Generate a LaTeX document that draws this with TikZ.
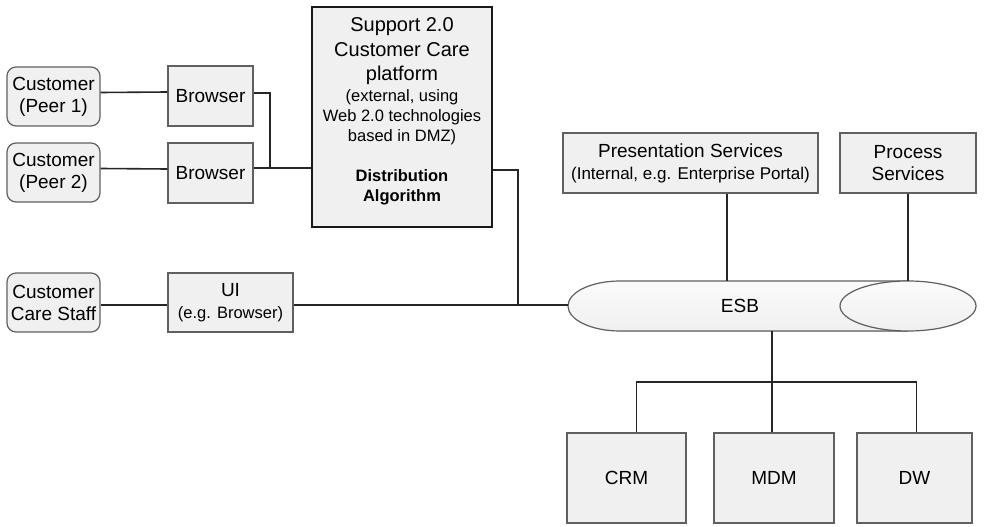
\documentclass[tikz,border=0pt]{standalone}
\usepackage{fontspec}
\setmainfont{Liberation Sans}
\usetikzlibrary{calc}

\newcommand{\bigtxt}{\fontsize{20}{25}\selectfont}
\newcommand{\smalltxt}{\fontsize{16.5}{20}\selectfont}

\begin{document}
\begin{tikzpicture}[x=1pt, y=-1pt,
    box/.style={draw=gray!75!black, line width=1.2pt, fill=gray!12, inner sep=0pt, align=center, font=\fontsize{19}{22}\selectfont},
    person/.style={box, rounded corners=9pt},
    wire/.style={line width=1.6pt, draw=black!85}]
		\useasboundingbox (0,0) rectangle (988,527);
		% clients
		\node[person, minimum width=93, minimum height=59] (peer1) at (53.5,96.5) {Customer\\(Peer 1)};
		\node[person, minimum width=93, minimum height=59] (peer2) at (53.5,172.5) {Customer\\(Peer 2)};
		\node[person, minimum width=93, minimum height=59] (staff) at (53.5,302.5) {Customer\\Care Staff};
		\node[box, minimum width=85, minimum height=60] (br1) at (210.5,96) {Browser};
		\node[box, minimum width=85, minimum height=60] (br2) at (210.5,173) {Browser};
		\node[box, minimum width=125, minimum height=59] (ui) at (230.5,302.5) {UI\\\smalltxt (e.g. Browser)};
		% platform
		\node[box, draw=black!90, line width=1.8pt, minimum width=180, minimum height=220] (platform) at (402,117) {};
		\node[align=center, inner sep=0pt, font=\smalltxt] (platformtext) at (402,111) {\bigtxt Support 2.0\\[5pt]\bigtxt Customer Care\\[4pt]\bigtxt platform\\[1pt](external, using\\Web 2.0 technologies\\based in DMZ)\\[20pt]\bfseries Distribution\\\bfseries Algorithm};
		% services
		\node[box, minimum width=255, minimum height=60] (pres) at (690.5,163) {Presentation Services\\\fontsize{17}{20}\selectfont (Internal, e.g. Enterprise Portal)};
		\node[box, minimum width=136, minimum height=60] (proc) at (908,163) {Process\\Services};
		% ESB
		\filldraw[draw=gray!75!black, line width=1.2pt, top color=gray!3, bottom color=gray!12] (908,281) -- (620,281) arc[start angle=270, end angle=90, x radius=52, y radius=25] -- (908,331);
		\filldraw[draw=gray!75!black, line width=1.2pt, top color=gray!3, bottom color=gray!12] (908,306) ellipse[x radius=68, y radius=25];
		\node[minimum width=408, minimum height=50, inner sep=0pt] (esb) at (772,306) {};
		\node[font=\fontsize{19}{22}\selectfont] (esblabel) at (740,306) {ESB};
		% backends
		\node[box, minimum width=119, minimum height=90] (crm) at (626.5,478) {CRM};
		\node[box, minimum width=120, minimum height=90] (mdm) at (774,478) {MDM};
		\node[box, minimum width=115, minimum height=90] (dw) at (914.5,478) {DW};
		\coordinate (join) at (270,168);
		\coordinate (tee) at (518,305);
		\coordinate (bus) at (772,382);

		\draw[wire] ([yshift=4pt]peer1.east) -- ([yshift=4pt]br1.west);
		\draw[wire] ([yshift=4pt]peer2.east) -- ([yshift=4pt]br2.west);
		\draw[wire] ([yshift=3pt]br1.east) -| (join);
		\draw[wire] ([yshift=5pt]br2.east) -- ([yshift=5pt]br2.east -| platform.west);
		\draw[wire] ([yshift=-53pt]platform.east) -| (tee);
		\draw[wire] ([yshift=-2.5pt]staff.east) -- ([yshift=-2.5pt]ui.west);
		\draw[wire] ([yshift=-2.5pt]ui.east) -- ([yshift=-2.5pt]ui.east -| esb.west);
		\draw[wire] ([xshift=36.5pt]pres.south) -- ([xshift=36.5pt]pres.south |- esb.north);
		\draw[wire] (proc) -- (proc |- esb.north);
		\draw[wire] (esb.south) -- (mdm.north -| esb.south);
		\draw[wire] ([xshift=10pt]crm.north) |- (bus) -| ([xshift=2pt]dw.north);
	\end{tikzpicture}
\end{document}
